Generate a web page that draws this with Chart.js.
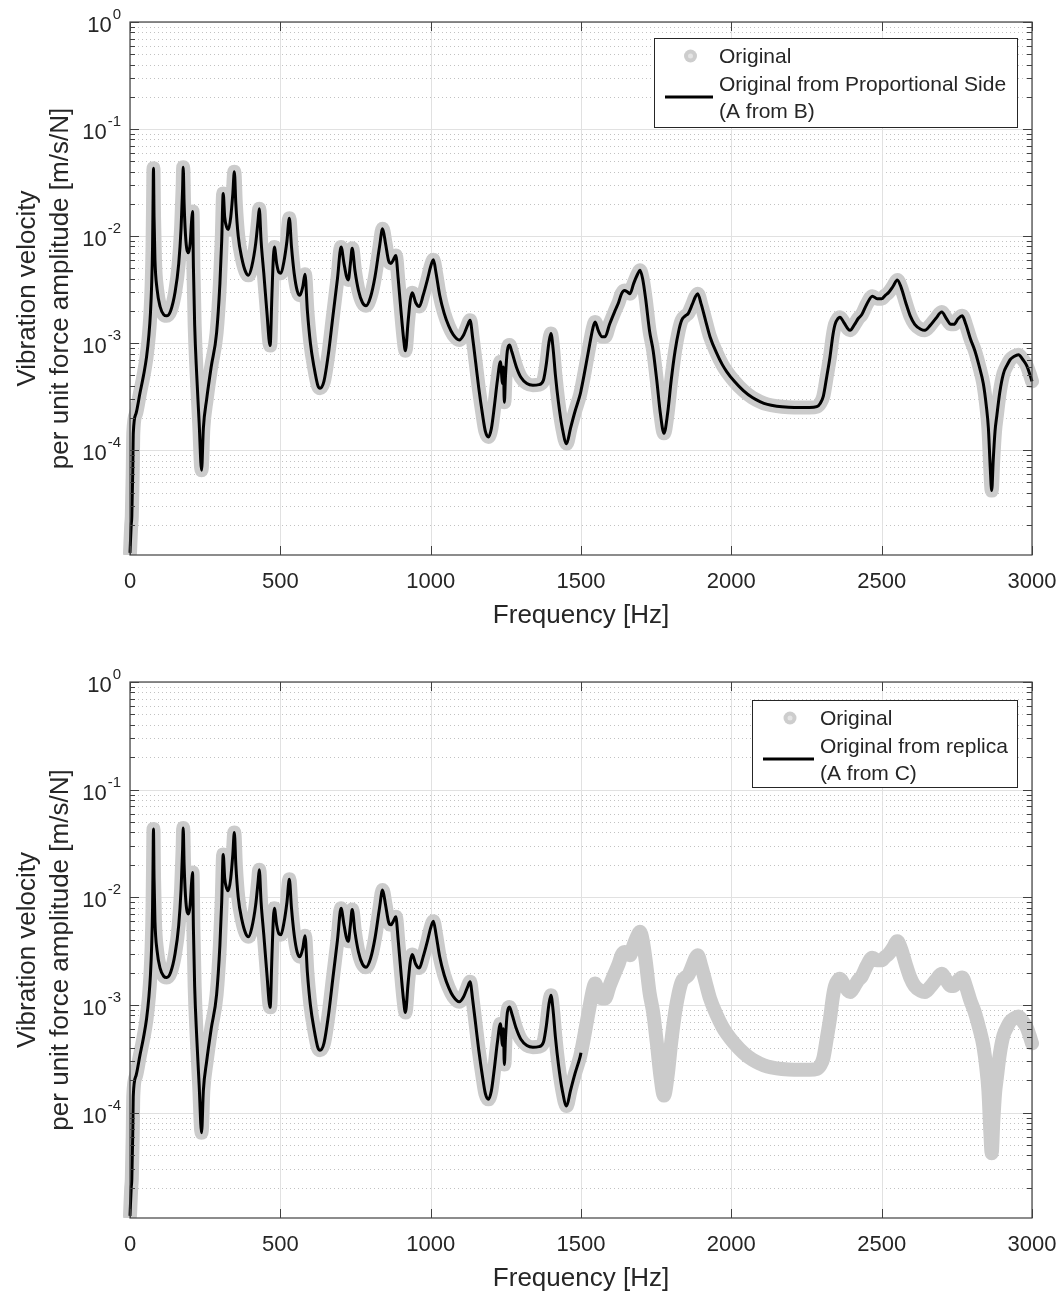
<!DOCTYPE html>
<html>
<head>
<meta charset="utf-8">
<script src="https://cdn.jsdelivr.net/npm/chart.js@4.4.1/dist/chart.umd.min.js"></script>
<style>
  html, body { margin: 0; padding: 0; background: #fff; overflow: hidden; }
  .panel { position: absolute; left: 0; }
</style>
</head>
<body>
<div class="panel" style="top:0"><canvas id="chart-b" width="1064" height="660"></canvas></div>
<div class="panel" style="top:660px"><canvas id="chart-c" width="1064" height="632"></canvas></div>
<script>
// Measured FRF, point A (velocity per unit force)
const freqHz = [
  0, 4, 6, 9, 11, 20, 33, 45, 55, 63, 68, 72, 75, 77, 78, 80, 83, 90, 100, 112,
  122, 135, 150, 162, 170, 175, 177, 180, 186, 195, 200, 205, 208, 211, 215, 222, 230, 238, 244, 255,
  270, 288, 299, 305, 310, 315, 322, 327, 335, 342, 347, 352, 360, 372, 385, 394, 405, 418, 426, 430,
  436, 445, 455, 466, 472, 477, 480, 488, 495, 502, 512, 522, 530, 537, 546, 556, 565, 575, 582, 590,
  600, 612, 625, 632, 645, 660, 675, 690, 702, 712, 720, 726, 733, 739, 748, 760, 773, 785, 800, 815,
  830, 840, 850, 860, 868, 876, 884, 892, 900, 910, 916, 925, 932, 939, 950, 962, 975, 990, 1000, 1009,
  1018, 1030, 1045, 1060, 1075, 1095, 1110, 1122, 1131, 1140, 1150, 1160, 1172, 1182, 1192, 1202, 1212, 1222, 1232, 1239,
  1242, 1245, 1249, 1255, 1262, 1270, 1285, 1300, 1320, 1340, 1360, 1375, 1385, 1393, 1400, 1407, 1415, 1425, 1438, 1452,
  1465, 1480, 1497, 1500, 1510, 1525, 1540, 1547, 1558, 1570, 1580, 1595, 1613, 1625, 1635, 1645, 1655, 1663, 1675, 1688,
  1696, 1705, 1715, 1728, 1740, 1752, 1764, 1776, 1788, 1800, 1813, 1825, 1835, 1847, 1857, 1870, 1880, 1888, 1900, 1915,
  1929, 1950, 1970, 1985, 2010, 2040, 2070, 2095, 2120, 2151, 2190, 2228, 2260, 2284, 2296, 2306, 2318, 2328, 2338, 2345,
  2355, 2361, 2375, 2389, 2395, 2410, 2422, 2434, 2450, 2469, 2485, 2500, 2512, 2522, 2538, 2552, 2565, 2580, 2595, 2610,
  2630, 2644, 2660, 2680, 2700, 2715, 2730, 2740, 2755, 2768, 2780, 2795, 2810, 2825, 2838, 2848, 2855, 2861, 2866, 2871,
  2877, 2883, 2893, 2905, 2918, 2927, 2940, 2955, 2970, 2982, 2992, 3000
];
const originalAmp = [
  1.1e-5, 2.0e-5, 2.4e-5, 6.0e-5, 1.45e-4, 2.2e-4, 3.4e-4, 5.0e-4, 7.4e-4, 1.2e-3, 1.9e-3, 3.5e-3, 8.0e-3, 2.5e-2, 4.3e-2, 1.5e-2, 6.0e-3, 3.2e-3, 2.2e-3, 1.85e-3,
  1.8e-3, 2.0e-3, 3.0e-3, 5.5e-3, 1.2e-2, 2.8e-2, 4.4e-2, 2.0e-2, 9.0e-3, 7.0e-3, 8.5e-3, 1.4e-2, 1.7e-2, 5.0e-3, 1.5e-3, 5.0e-4, 1.8e-4, 6.5e-5, 1.6e-4, 3.0e-4,
  6.0e-4, 1.25e-3, 3.6e-3, 9.0e-3, 2.5e-2, 1.5e-2, 1.2e-2, 1.15e-2, 1.5e-2, 2.5e-2, 4.0e-2, 2.0e-2, 1.0e-2, 6.2e-3, 4.6e-3, 4.3e-3, 5.2e-3, 8.5e-3, 1.4e-2, 1.8e-2,
  9.0e-3, 4.5e-3, 2.0e-3, 9.5e-4, 2.8e-3, 6.5e-3, 7.9e-3, 5.5e-3, 4.6e-3, 4.5e-3, 5.8e-3, 9.0e-3, 1.47e-2, 8.0e-3, 4.5e-3, 3.1e-3, 2.8e-3, 3.4e-3, 4.4e-3, 2.0e-3,
  1.0e-3, 6.0e-4, 4.0e-4, 3.8e-4, 4.4e-4, 8.0e-4, 1.8e-3, 4.0e-3, 7.9e-3, 5.5e-3, 4.2e-3, 3.9e-3, 5.5e-3, 7.7e-3, 4.8e-3, 3.1e-3, 2.4e-3, 2.24e-3, 2.7e-3, 4.2e-3,
  8.0e-3, 1.17e-2, 8.5e-3, 5.9e-3, 5.56e-3, 6.0e-3, 6.6e-3, 4.0e-3, 2.2e-3, 1.1e-3, 8.5e-4, 1.6e-3, 2.5e-3, 2.95e-3, 2.4e-3, 2.2e-3, 2.8e-3, 4.0e-3, 5.2e-3, 6.0e-3,
  4.5e-3, 2.8e-3, 1.9e-3, 1.45e-3, 1.2e-3, 1.07e-3, 1.2e-3, 1.45e-3, 1.64e-3, 1.1e-3, 6.5e-4, 3.8e-4, 2.2e-4, 1.5e-4, 1.33e-4, 1.6e-4, 2.6e-4, 4.5e-4, 6.7e-4, 4.2e-4,
  6.0e-4, 2.8e-4, 5.0e-4, 8.5e-4, 9.6e-4, 8.3e-4, 6.0e-4, 4.8e-4, 4.2e-4, 4.05e-4, 4.1e-4, 4.5e-4, 6.5e-4, 1.0e-3, 1.23e-3, 9.0e-4, 5.0e-4, 2.8e-4, 1.6e-4, 1.15e-4,
  1.6e-4, 2.3e-4, 3.3e-4, 3.6e-4, 5.0e-4, 8.5e-4, 1.4e-3, 1.58e-3, 1.3e-3, 1.15e-3, 1.15e-3, 1.5e-3, 2.0e-3, 2.4e-3, 2.9e-3, 3.1e-3, 3.0e-3, 2.9e-3, 3.6e-3, 4.4e-3,
  4.8e-3, 4.0e-3, 2.6e-3, 1.3e-3, 8.5e-4, 4.5e-4, 2.2e-4, 1.44e-4, 2.2e-4, 4.5e-4, 8.5e-4, 1.3e-3, 1.64e-3, 1.8e-3, 1.9e-3, 2.3e-3, 2.7e-3, 2.9e-3, 2.3e-3, 1.6e-3,
  1.15e-3, 8.2e-4, 6.3e-4, 5.4e-4, 4.4e-4, 3.6e-4, 3.1e-4, 2.85e-4, 2.68e-4, 2.58e-4, 2.52e-4, 2.5e-4, 2.5e-4, 2.55e-4, 2.75e-4, 3.2e-4, 5.0e-4, 7.4e-4, 1.2e-3, 1.5e-3,
  1.7e-3, 1.75e-3, 1.55e-3, 1.35e-3, 1.32e-3, 1.5e-3, 1.7e-3, 1.85e-3, 2.3e-3, 2.75e-3, 2.6e-3, 2.6e-3, 2.8e-3, 2.95e-3, 3.4e-3, 3.9e-3, 3.3e-3, 2.4e-3, 1.8e-3, 1.5e-3,
  1.35e-3, 1.32e-3, 1.45e-3, 1.7e-3, 1.95e-3, 1.7e-3, 1.5e-3, 1.5e-3, 1.7e-3, 1.8e-3, 1.5e-3, 1.1e-3, 8.5e-4, 6.0e-4, 4.2e-4, 2.6e-4, 1.6e-4, 7.0e-5, 4.2e-5, 8.0e-5,
  1.5e-4, 2.1e-4, 3.5e-4, 5.2e-4, 6.3e-4, 7.0e-4, 7.5e-4, 7.8e-4, 7.0e-4, 6.2e-4, 5.2e-4, 4.4e-4
];
// the replica-based estimate only covers the band up to this frequency
const replicaEndHz = 1500;

const xTicks = [0, 500, 1000, 1500, 2000, 2500, 3000];
const yExponents = [0, -1, -2, -3, -4];
const yMin = 1.05e-5;
const yMax = 1;

const legendB = ['Original', 'Original from Proportional Side', '(A from B)'];
const legendC = ['Original', 'Original from replica', '(A from C)'];

const FONT = '"Liberation Sans", Arial, Helvetica, sans-serif';
const INK = '#262626';

// minor decade ticks 2..9 x 10^n inside the y range
const yMinor = [];
for (let d = -5; d < 0; d++) {
  for (let m = 2; m <= 9; m++) {
    const v = m * Math.pow(10, d);
    if (v >= yMin && v <= yMax) yMinor.push(v);
  }
}

function axesDecor(legendText, legendBox) {
  return {
    id: 'axesDecor',
    beforeDatasetsDraw(chart) {
      const { ctx, chartArea: a, scales: { x, y } } = chart;
      ctx.save();
      ctx.lineWidth = 1;
      // dotted minor grid
      ctx.strokeStyle = '#c2c2c2';
      ctx.setLineDash([1, 3]);
      yMinor.forEach(v => {
        const py = Math.round(y.getPixelForValue(v)) + 0.5;
        ctx.beginPath(); ctx.moveTo(a.left, py); ctx.lineTo(a.right, py); ctx.stroke();
      });
      ctx.setLineDash([]);
      // major grid
      ctx.strokeStyle = '#e1e1e1';
      yExponents.forEach(e => {
        const py = Math.round(y.getPixelForValue(Math.pow(10, e))) + 0.5;
        ctx.beginPath(); ctx.moveTo(a.left, py); ctx.lineTo(a.right, py); ctx.stroke();
      });
      xTicks.forEach(t => {
        const px = Math.round(x.getPixelForValue(t)) + 0.5;
        ctx.beginPath(); ctx.moveTo(px, a.top); ctx.lineTo(px, a.bottom); ctx.stroke();
      });
      ctx.restore();
    },
    afterDatasetsDraw(chart) {
      const { ctx, chartArea: a, scales: { x, y } } = chart;
      ctx.save();
      ctx.strokeStyle = '#404040';
      ctx.lineWidth = 1.2;
      ctx.strokeRect(a.left, a.top, a.right - a.left, a.bottom - a.top);

      // inward ticks on all four sides
      ctx.lineWidth = 1;
      const tickY = (v, len) => {
        const py = Math.round(y.getPixelForValue(v)) + 0.5;
        ctx.beginPath();
        ctx.moveTo(a.left, py); ctx.lineTo(a.left + len, py);
        ctx.moveTo(a.right, py); ctx.lineTo(a.right - len, py);
        ctx.stroke();
      };
      yExponents.forEach(e => tickY(Math.pow(10, e), 9));
      yMinor.forEach(v => tickY(v, 5));
      xTicks.forEach(t => {
        const px = Math.round(x.getPixelForValue(t)) + 0.5;
        ctx.beginPath();
        ctx.moveTo(px, a.bottom); ctx.lineTo(px, a.bottom - 9);
        ctx.moveTo(px, a.top); ctx.lineTo(px, a.top + 9);
        ctx.stroke();
      });

      // tick labels
      ctx.fillStyle = INK;
      ctx.font = `22px ${FONT}`;
      ctx.textAlign = 'center';
      ctx.textBaseline = 'middle';
      xTicks.forEach(t => ctx.fillText(String(t), x.getPixelForValue(t), a.bottom + 27));

      yExponents.forEach(e => {
        const py = y.getPixelForValue(Math.pow(10, e));
        const exp = String(e);
        ctx.font = `15px ${FONT}`;
        ctx.textAlign = 'right';
        ctx.textBaseline = 'alphabetic';
        const ew = ctx.measureText(exp).width;
        ctx.fillText(exp, a.left - 9, py - 3);
        ctx.font = `22px ${FONT}`;
        ctx.textBaseline = 'middle';
        ctx.fillText('10', a.left - 10 - ew, py + 4);
      });

      // axis titles
      ctx.font = `26px ${FONT}`;
      ctx.textAlign = 'center';
      ctx.textBaseline = 'middle';
      ctx.fillText('Frequency [Hz]', (a.left + a.right) / 2, a.bottom + 61);
      ctx.save();
      ctx.translate(0, (a.top + a.bottom) / 2);
      ctx.rotate(-Math.PI / 2);
      ctx.fillText('Vibration velocity', 0, 28);
      ctx.fillText('per unit force amplitude [m/s/N]', 0, 61);
      ctx.restore();

      // legend box
      const b = legendBox;
      ctx.fillStyle = '#fff';
      ctx.fillRect(b.x, b.y, b.w, b.h);
      ctx.strokeStyle = INK;
      ctx.lineWidth = 1;
      ctx.strokeRect(b.x + 0.5, b.y + 0.5, b.w, b.h);
      const lineMid = b.x + b.textX / 2 + 4;
      // marker sample for the measured curve
      ctx.fillStyle = '#cdcdcd';
      ctx.beginPath(); ctx.arc(lineMid, b.y + 18, 6.5, 0, Math.PI * 2); ctx.fill();
      ctx.fillStyle = '#e4e4e4';
      ctx.beginPath(); ctx.arc(lineMid, b.y + 18, 2.5, 0, Math.PI * 2); ctx.fill();
      // line sample for the derived curve
      ctx.strokeStyle = '#000';
      ctx.lineWidth = 3;
      ctx.beginPath(); ctx.moveTo(b.x + 11, b.y + 59); ctx.lineTo(b.x + b.textX - 6, b.y + 59); ctx.stroke();
      ctx.fillStyle = INK;
      ctx.font = `21px ${FONT}`;
      ctx.textAlign = 'left';
      ctx.textBaseline = 'middle';
      ctx.fillText(legendText[0], b.x + b.textX, b.y + 19);
      ctx.fillText(legendText[1], b.x + b.textX, b.y + 47);
      ctx.fillText(legendText[2], b.x + b.textX, b.y + 74);
      ctx.restore();
    }
  };
}

function makeChart(canvasId, blackMaxHz, legendText, legendBox, plotBottom) {
  const points = freqHz.map((f, i) => ({ x: f, y: originalAmp[i] }));
  const blackPoints = points.filter(p => p.x <= blackMaxHz);
  const canvas = document.getElementById(canvasId);
  return new Chart(canvas, {
    type: 'line',
    data: {
      datasets: [
        {
          label: legendText[1],
          data: blackPoints,
          borderColor: '#000',
          borderWidth: 3,
          pointRadius: 0,
          cubicInterpolationMode: 'monotone',
          borderJoinStyle: 'round',
          clip: { left: 8, right: 8, top: 0, bottom: 0 },
        },
        {
          label: legendText[0],
          data: points,
          borderColor: '#cbcbcb',
          borderWidth: 14,
          pointRadius: 0,
          cubicInterpolationMode: 'monotone',
          borderJoinStyle: 'round',
          borderCapStyle: 'round',
          clip: { left: 8, right: 8, top: 0, bottom: 0 },
        },
      ],
    },
    options: {
      responsive: false,
      animation: false,
      layout: { padding: { top: 22, right: 32, left: 0, bottom: 0 } },
      plugins: { legend: { display: false }, tooltip: { enabled: false } },
      scales: {
        x: {
          type: 'linear', min: 0, max: 3000,
          grid: { display: false }, border: { display: false },
          ticks: { display: false },
          afterFit: s => { s.height = canvas.height - plotBottom; },
        },
        y: {
          type: 'logarithmic', min: yMin, max: yMax,
          grid: { display: false }, border: { display: false },
          ticks: { display: false },
          afterFit: s => { s.width = 130; },
        },
      },
    },
    plugins: [axesDecor(legendText, legendBox)],
  });
}

makeChart('chart-b', 3000, legendB, { x: 654, y: 38, w: 363, h: 89, textX: 65 }, 555);
makeChart('chart-c', replicaEndHz, legendC, { x: 752, y: 40, w: 265, h: 87, textX: 68 }, 558);
</script>
</body>
</html>
